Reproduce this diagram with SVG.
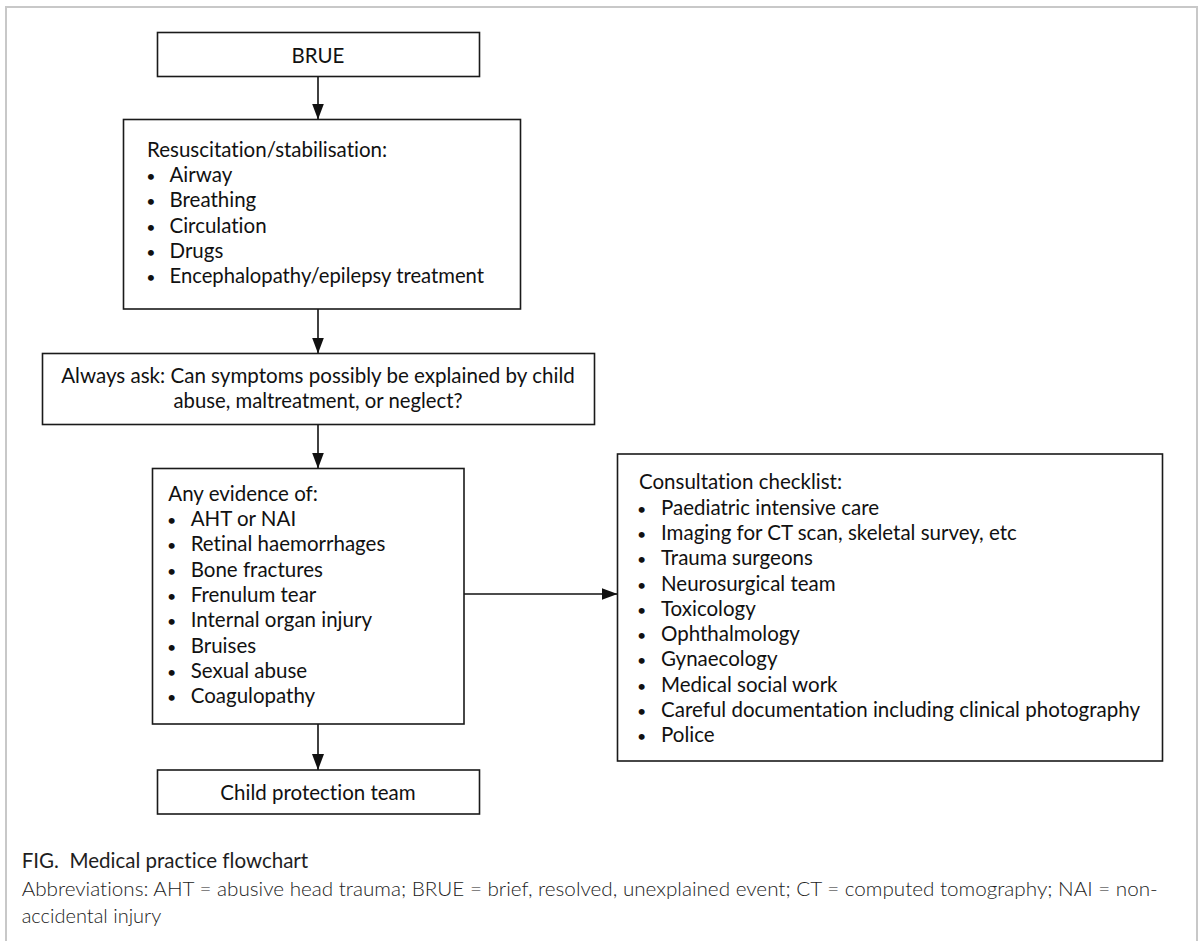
<svg xmlns="http://www.w3.org/2000/svg" width="1203" height="941" viewBox="0 0 1203 941">
<style>
text{font-variant-ligatures:none;font-feature-settings:"liga" 0,"clig" 0}
.box{fill:#fff;stroke:#1a1a1a;stroke-width:1.6}
.t{font-family:Lato,"Liberation Sans",sans-serif;font-size:20.5px;fill:#111}
.c{text-anchor:middle}
.b{text-anchor:middle;font-size:16px}
.con{stroke:#111;stroke-width:1.6;fill:none}
.cap{font-family:Lato,"Liberation Sans",sans-serif;font-size:20.5px;fill:#1e1e1e}
.abbr{font-family:Lato,"Liberation Sans",sans-serif;font-size:20px;font-weight:300;fill:#222}
</style>
<defs>
<marker id="ah" viewBox="0 0 16 12" refX="16" refY="6" markerWidth="16" markerHeight="12" markerUnits="userSpaceOnUse" orient="auto">
<path d="M0,0 L16,6 L0,12 Z" fill="#111"/>
</marker>
</defs>
<rect x="0" y="0" width="1203" height="941" fill="#fff"/>
<rect x="6" y="7" width="1191" height="960" fill="none" stroke="#c8c8c8" stroke-width="2"/>

<g id="connectors">
<line class="con" x1="318" y1="76.5" x2="318" y2="119.5" marker-end="url(#ah)"/>
<line class="con" x1="318" y1="309" x2="318" y2="353.5" marker-end="url(#ah)"/>
<line class="con" x1="318" y1="424.5" x2="318" y2="468.5" marker-end="url(#ah)"/>
<line class="con" x1="318" y1="724" x2="318" y2="770" marker-end="url(#ah)"/>
<line class="con" x1="464" y1="594" x2="617.5" y2="594" marker-end="url(#ah)"/>
</g>

<g id="brue">
<rect class="box" x="157.5" y="32.5" width="322" height="44"/>
<text class="t c" x="318" y="63">BRUE</text>
</g>

<g id="resus">
<rect class="box" x="123.5" y="119.5" width="397" height="189.5"/>
<text class="t" x="147" y="156.7">Resuscitation/stabilisation:</text>
<text class="t b" x="151" y="182">•</text><text class="t" x="169.5" y="182">Airway</text>
<text class="t b" x="151" y="207.3">•</text><text class="t" x="169.5" y="207.3">Breathing</text>
<text class="t b" x="151" y="232.6">•</text><text class="t" x="169.5" y="232.6">Circulation</text>
<text class="t b" x="151" y="257.9">•</text><text class="t" x="169.5" y="257.9">Drugs</text>
<text class="t b" x="151" y="283.2">•</text><text class="t" x="169.5" y="283.2" textLength="314.5" lengthAdjust="spacingAndGlyphs">Encephalopathy/epilepsy treatment</text>
</g>

<g id="ask">
<rect class="box" x="42.5" y="353.5" width="552" height="71"/>
<text class="t c" x="318" y="382.7" textLength="513.6" lengthAdjust="spacingAndGlyphs">Always ask: Can symptoms possibly be explained by child</text>
<text class="t c" x="318" y="408.3" textLength="289" lengthAdjust="spacingAndGlyphs">abuse, maltreatment, or neglect?</text>
</g>

<g id="evidence">
<rect class="box" x="152.5" y="468.5" width="311.5" height="255.5"/>
<text class="t" x="168.3" y="500.7">Any evidence of:</text>
<text class="t b" x="171.7" y="526">•</text><text class="t" x="190.7" y="526">AHT or NAI</text>
<text class="t b" x="171.7" y="551.3">•</text><text class="t" x="190.7" y="551.3">Retinal haemorrhages</text>
<text class="t b" x="171.7" y="576.6">•</text><text class="t" x="190.7" y="576.6">Bone fractures</text>
<text class="t b" x="171.7" y="601.9">•</text><text class="t" x="190.7" y="601.9">Frenulum tear</text>
<text class="t b" x="171.7" y="627.2">•</text><text class="t" x="190.7" y="627.2">Internal organ injury</text>
<text class="t b" x="171.7" y="652.5">•</text><text class="t" x="190.7" y="652.5">Bruises</text>
<text class="t b" x="171.7" y="677.8">•</text><text class="t" x="190.7" y="677.8">Sexual abuse</text>
<text class="t b" x="171.7" y="703.1">•</text><text class="t" x="190.7" y="703.1">Coagulopathy</text>
</g>

<g id="consult">
<rect class="box" x="617.5" y="454" width="545" height="307"/>
<text class="t" x="639" y="489.3">Consultation checklist:</text>
<text class="t b" x="641.7" y="514.6">•</text><text class="t" x="661" y="514.6">Paediatric intensive care</text>
<text class="t b" x="641.7" y="539.9">•</text><text class="t" x="661" y="539.9">Imaging for CT scan, skeletal survey, etc</text>
<text class="t b" x="641.7" y="565.2">•</text><text class="t" x="661" y="565.2">Trauma surgeons</text>
<text class="t b" x="641.7" y="590.5">•</text><text class="t" x="661" y="590.5">Neurosurgical team</text>
<text class="t b" x="641.7" y="615.8">•</text><text class="t" x="661" y="615.8">Toxicology</text>
<text class="t b" x="641.7" y="641.1">•</text><text class="t" x="661" y="641.1">Ophthalmology</text>
<text class="t b" x="641.7" y="666.4">•</text><text class="t" x="661" y="666.4">Gynaecology</text>
<text class="t b" x="641.7" y="691.7">•</text><text class="t" x="661" y="691.7">Medical social work</text>
<text class="t b" x="641.7" y="717">•</text><text class="t" x="661" y="717" textLength="479" lengthAdjust="spacingAndGlyphs">Careful documentation including clinical photography</text>
<text class="t b" x="641.7" y="742.3">•</text><text class="t" x="661" y="742.3">Police</text>
</g>

<g id="cpt">
<rect class="box" x="157.5" y="770" width="322" height="44"/>
<text class="t c" x="318" y="800">Child protection team</text>
</g>

<g id="caption">
<text class="cap" x="21.7" y="867.7" xml:space="preserve" textLength="286.5" lengthAdjust="spacingAndGlyphs">FIG.  Medical practice flowchart</text>
<text class="abbr" x="21.7" y="896" textLength="1136" lengthAdjust="spacingAndGlyphs">Abbreviations: AHT = abusive head trauma; BRUE = brief, resolved, unexplained event; CT = computed tomography; NAI = non-</text>
<text class="abbr" x="21.7" y="922.7">accidental injury</text>
</g>
</svg>
